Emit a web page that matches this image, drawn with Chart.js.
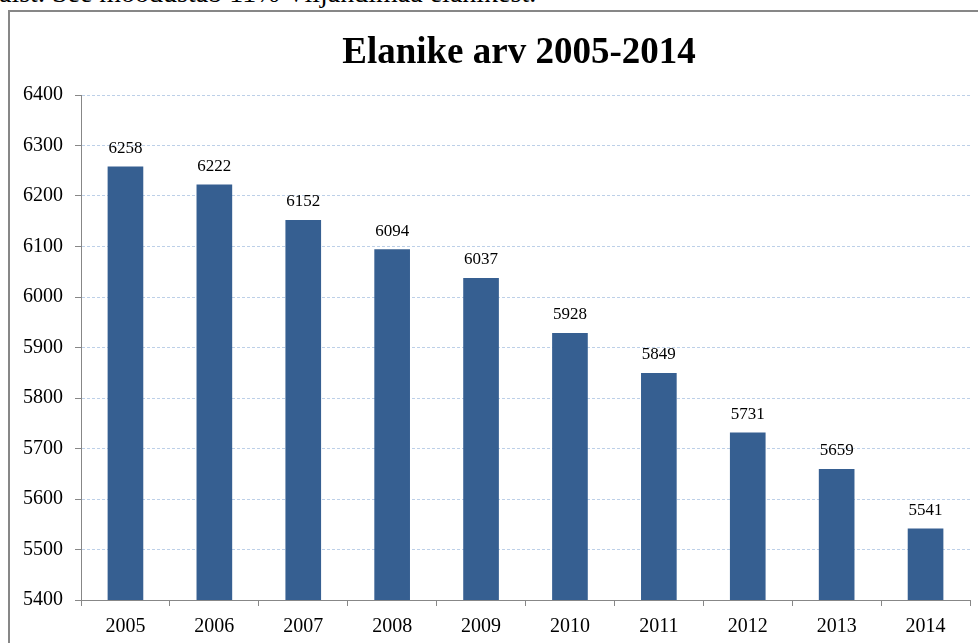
<!DOCTYPE html>
<html lang="et">
<head>
<meta charset="UTF-8">
<title>Elanike arv 2005-2014</title>
<script src="https://cdn.jsdelivr.net/npm/chart.js@4"></script>
<style>
  html, body {
    margin: 0;
    padding: 0;
    background: #fff;
    overflow: hidden;
    width: 978px;
    height: 643px;
  }
  .doc-line {
    position: absolute;
    left: -1px;
    top: -23px;
    font-family: 'Liberation Serif', 'Times New Roman', serif;
    font-size: 28px;
    line-height: 32px;
    color: #000;
    white-space: nowrap;
  }
  .frame {
    position: absolute;
    left: 8px;
    top: 10px;
    width: 990px;
    height: 660px;
    border-left: 2px solid #878787;
    border-top: 2px solid #878787;
  }
  .chart-box {
    position: absolute;
    left: 11px;
    top: 13px;
    width: 967px;
    height: 630px;
  }
</style>
</head>
<body>
<div class="doc-line">aist. See moodustab 11% Viljandimaa elanikest.</div>
<div class="frame"></div>
<div class="chart-box"><canvas id="chart"></canvas></div>

<script>
  // Data
  const years = ['2005', '2006', '2007', '2008', '2009', '2010', '2011', '2012', '2013', '2014'];
  const residents = [6258, 6222, 6152, 6094, 6037, 5928, 5849, 5731, 5659, 5541];
  const yTicks = [5400, 5500, 5600, 5700, 5800, 5900, 6000, 6100, 6200, 6300, 6400];
  const chartTitle = 'Elanike arv 2005-2014';

  const serif = "'Liberation Serif', 'Times New Roman', serif";
  const barColor = '#365F91';
  const axisColor = '#878787';
  const gridColor = '#BDD0E8';

  // title drawn at a fixed spot (it sits right of centre in the original)
  const titlePlugin = {
    id: 'fixedTitle',
    afterDraw (chart) {
      const ctx = chart.ctx;
      ctx.save();
      ctx.font = 'bold 37px ' + serif;
      ctx.fillStyle = '#000';
      ctx.textAlign = 'center';
      ctx.textBaseline = 'alphabetic';
      ctx.fillText(chartTitle, 508, 50);
      ctx.restore();
    }
  };

  // value labels above each bar
  const valueLabels = {
    id: 'valueLabels',
    afterDatasetsDraw (chart) {
      const ctx = chart.ctx;
      const meta = chart.getDatasetMeta(0);
      ctx.save();
      ctx.font = '17px ' + serif;
      ctx.fillStyle = '#000';
      ctx.textAlign = 'center';
      ctx.textBaseline = 'alphabetic';
      meta.data.forEach((bar, i) => {
        ctx.fillText(String(residents[i]), bar.x, bar.y - 14);
      });
      ctx.restore();
    }
  };

  new Chart(document.getElementById('chart'), {
    type: 'bar',
    data: {
      labels: years,
      datasets: [{
        data: residents,
        backgroundColor: barColor,
        borderWidth: 0,
        barThickness: 35
      }]
    },
    options: {
      responsive: true,
      maintainAspectRatio: false,
      animation: false,
      layout: { padding: { top: 82, right: 8, left: 0, bottom: 0 } },
      plugins: {
        legend: { display: false },
        title: { display: false },
        tooltip: { enabled: false }
      },
      scales: {
        x: {
          offset: true,
          grid: {
            offset: true,
            drawOnChartArea: false,
            tickLength: 6,
            color: axisColor
          },
          border: { color: axisColor, width: 1 },
          ticks: {
            color: '#000',
            font: { family: serif, size: 20 },
            padding: 9
          },
          afterFit (scale) { scale.height = 43; }
        },
        y: {
          min: 5400,
          max: 6400,
          afterBuildTicks (scale) {
            scale.ticks = yTicks.map(v => ({ value: v }));
          },
          grid: {
            color: gridColor,
            tickColor: axisColor,
            tickLength: 6,
            lineWidth: 1
          },
          border: { color: axisColor, width: 1, dash: [3, 2] },
          ticks: {
            color: '#000',
            font: { family: serif, size: 20 },
            padding: 12,
            callback: v => String(v)
          },
          afterFit (scale) { scale.width = 70; }
        }
      }
    },
    plugins: [titlePlugin, valueLabels]
  });
</script>
</body>
</html>
